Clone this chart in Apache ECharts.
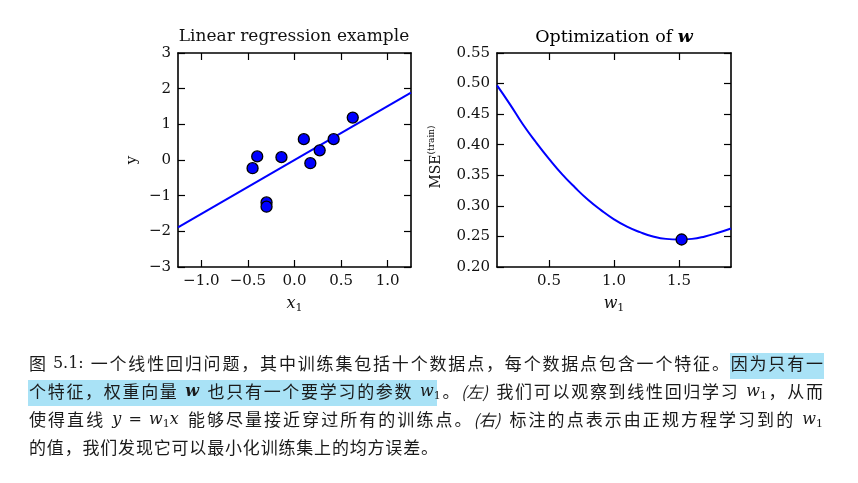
<!DOCTYPE html>
<html><head><meta charset="utf-8">
<script src="https://cdn.jsdelivr.net/npm/echarts@6/dist/echarts.min.js"></script>
<style>html,body{margin:0;padding:0;background:#fff;}#c{width:858px;height:483px;}</style>
</head><body><div id="c"></div>
<script>
// ---- data ----
const pointX = [-0.45, -0.40, -0.30, -0.30, -0.14, 0.10, 0.17, 0.27, 0.42, 0.625];
const pointY = [-0.23, 0.10, -1.19, -1.31, 0.08, 0.585, -0.09, 0.27, 0.585, 1.19];
const fitX = [-1.25, 1.25];
const fitY = [-1.89, 1.89];
const w1Values = [0.1, 0.2, 0.3, 0.4, 0.5, 0.6, 0.7, 0.8, 0.9, 1.0, 1.1, 1.2, 1.3, 1.4, 1.5, 1.6, 1.7, 1.8, 1.9];
const mseValues = [0.497, 0.466, 0.433, 0.404, 0.377, 0.352, 0.330, 0.310, 0.293, 0.278, 0.266, 0.257, 0.250, 0.246, 0.245, 0.246, 0.250, 0.256, 0.263];
const optW = [1.52];
const optMSE = [0.245];
const leftXTicks = [-1.0, -0.5, 0.0, 0.5, 1.0];
const leftYTicks = [-3, -2, -1, 0, 1, 2, 3];
const rightXTicks = [0.5, 1.0, 1.5];
const rightYTicks = [0.20, 0.25, 0.30, 0.35, 0.40, 0.45, 0.50, 0.55];
const titles = ['Linear regression example', 'Optimization of '];
// caption: [style, text]
const captionLines = [
  [['c', '图'], ['n', ' 5.1: '], ['c', '一个线性回归问题，其中训练集包括十个数据点，每个数据点包含一个特征。因为只有一']],
  [['c', '个特征，权重向量'], ['sp', ' '], ['mb', 'w'], ['sp', ' '], ['c', '也只有一个要学习的参数'], ['sp', ' '], ['m', 'w'], ['sub', '1'], ['c', '。'], ['it', '(左)'], ['sp', ' '], ['c', '我们可以观察到线性回归学习'], ['sp', ' '], ['m', 'w'], ['sub', '1'], ['c', '，从而']],
  [['c', '使得直线'], ['sp', ' '], ['m', 'y'], ['n', ' = '], ['m', 'w'], ['sub', '1'], ['mx', 'x'], ['sp', ' '], ['c', '能够尽量接近穿过所有的训练点。'], ['it', '(右)'], ['sp', ' '], ['c', '标注的点表示由正规方程学习到的'], ['sp', ' '], ['m', 'w'], ['sub', '1']],
  [['c', '的值，我们发现它可以最小化训练集上的均方误差。']]
];

const SERIF = 'DejaVu Serif';
const CJK = 'Noto Sans CJK SC';
const BLUE = '#0000ff';
const TXT = '#1a1a1a';

function fmt(d) { return v => (v < 0 ? '\u2212' : '') + Math.abs(v).toFixed(d); }

function axisBase(gridIndex, position, min, max, ticks, decimals, showLabel) {
  return {
    type: 'value', gridIndex, position, min, max,
    axisLine: { show: true, onZero: false, lineStyle: { color: '#000', width: 1.6 } },
    axisTick: { show: true, inside: true, length: 7, customValues: ticks, lineStyle: { color: '#000', width: 1.2 } },
    axisLabel: showLabel ? { show: true, customValues: ticks, formatter: fmt(decimals), fontFamily: SERIF, fontSize: 15, color: '#111', margin: 7 } : { show: false },
    splitLine: { show: false }
  };
}

const chart = echarts.init(document.getElementById('c'), null, { renderer: 'canvas' });

const subRich = { i: { fontFamily: SERIF, fontStyle: 'italic', fontSize: 16, lineHeight: 20, color: '#111' }, s: { fontFamily: SERIF, fontSize: 11, lineHeight: 11, verticalAlign: 'bottom', color: '#111' } };
const xAxes = [
  Object.assign(axisBase(0, 'bottom', -1.25, 1.25, leftXTicks, 1, true), {
    name: '{i|x}{s|1}', nameLocation: 'middle', nameGap: 27, nameTextStyle: { rich: subRich }
  }),
  axisBase(0, 'top', -1.25, 1.25, leftXTicks, 1, false),
  Object.assign(axisBase(1, 'bottom', 0.1, 1.9, rightXTicks, 1, true), {
    name: '{i|w}{s|1}', nameLocation: 'middle', nameGap: 27, nameTextStyle: { rich: subRich }
  }),
  axisBase(1, 'top', 0.1, 1.9, rightXTicks, 1, false)
];
const yAxes = [
  Object.assign(axisBase(0, 'left', -3, 3, leftYTicks, 0, true), {
    name: 'y', nameLocation: 'middle', nameGap: 38, nameRotate: 90,
    nameTextStyle: { fontFamily: SERIF, fontSize: 15, color: '#111' }
  }),
  axisBase(0, 'right', -3, 3, leftYTicks, 0, false),
  Object.assign(axisBase(1, 'left', 0.2, 0.55, rightYTicks, 2, true), {
    name: '{a|MSE}{b|(train)}', nameLocation: 'middle', nameGap: 52, nameRotate: 90,
    nameTextStyle: { padding: [0, 0, 0, 6], rich: { a: { fontFamily: SERIF, fontSize: 14, lineHeight: 18, color: '#111' }, b: { fontFamily: SERIF, fontSize: 9, lineHeight: 12, verticalAlign: 'top', color: '#111' } } }
  }),
  axisBase(1, 'right', 0.2, 0.55, rightYTicks, 2, false)
];

// caption typesetting (justified like the reference)
const capStyles = {
  c: { family: CJK, size: 17, style: 'normal', weight: 'normal', dy: 0 },
  n: { family: SERIF, size: 16, style: 'normal', weight: 'normal', dy: 0 },
  sp: { family: SERIF, size: 16, style: 'normal', weight: 'normal', dy: 0 },
  m: { family: SERIF, size: 16, style: 'italic', weight: 'normal', dy: 0 },
  mx: { family: SERIF, size: 16, style: 'italic', weight: 'normal', dy: 0, attach: true },
  mb: { family: SERIF, size: 16, style: 'italic', weight: 'bold', dy: 0 },
  sub: { family: SERIF, size: 11, style: 'normal', weight: 'normal', dy: 4, attach: true },
  it: { family: CJK, size: 16, style: 'italic', weight: 'normal', dy: 0 }
};
const mctx = document.createElement('canvas').getContext('2d');
function fontStr(s) { return s.style + ' ' + s.weight + ' ' + s.size + 'px "' + s.family + '"'; }
function measure(st, t) { mctx.font = fontStr(capStyles[st]); return mctx.measureText(t).width; }

const capY = [364, 392, 420, 448];
const capX0 = 29;
const capX1 = [823, 823, 823, 438];
const graphics = [
  { type: 'rect', shape: { x: 730, y: 353, width: 94, height: 26 }, style: { fill: '#a9e2f6' }, z: 0 },
  { type: 'rect', shape: { x: 28, y: 380, width: 409, height: 26 }, style: { fill: '#a9e2f6' }, z: 0 },
  { type: 'text', x: 294, y: 37, style: { text: titles[0], fontFamily: SERIF, fontSize: 17, fill: '#111', align: 'center', verticalAlign: 'middle' }, z: 5 },
  { type: 'text', x: 614, y: 37, style: { text: '{t|' + titles[1] + '}{w|w}', rich: { t: { fontFamily: SERIF, fontSize: 17.5, color: '#111' }, w: { fontFamily: SERIF, fontSize: 17.5, fontStyle: 'italic', fontWeight: 'bold', color: '#111' } }, align: 'center', verticalAlign: 'middle' }, z: 5 }
];
captionLines.forEach((segs, li) => {
  const units = [];
  segs.forEach(([st, t]) => {
    if (st === 'c') { for (const ch of t) units.push({ st, t: ch }); }
    else units.push({ st, t });
  });
  units.forEach(u => { u.w = measure(u.st, u.t); });
  const natural = units.reduce((a, u) => a + u.w, 0);
  const gaps = units.filter((u, i) => i > 0 && !capStyles[u.st].attach).length;
  const extra = Math.max(0, (capX1[li] - capX0 - natural) / gaps);
  let x = capX0;
  units.forEach((u, i) => {
    if (i > 0 && !capStyles[u.st].attach) x += extra;
    const s = capStyles[u.st];
    if (u.st !== 'sp') {
      graphics.push({ type: 'text', x: x, y: capY[li] + s.dy, z: 5,
        style: { text: u.t, fontFamily: s.family, fontSize: s.size, fontStyle: s.style, fontWeight: s.weight, fill: TXT, align: 'left', verticalAlign: 'middle' } });
    }
    x += u.w;
  });
});

chart.setOption({
  animation: false,
  backgroundColor: '#fff',
  grid: [
    { left: 178, top: 53, width: 233, height: 214, outerBoundsMode: 'none' },
    { left: 497, top: 53, width: 234, height: 214, outerBoundsMode: 'none' }
  ],
  xAxis: xAxes,
  yAxis: yAxes,
  graphic: graphics,
  series: [
    { type: 'line', xAxisIndex: 0, yAxisIndex: 0, data: fitX.map((x, i) => [x, fitY[i]]), symbol: 'none', lineStyle: { color: BLUE, width: 2 }, z: 2 },
    { type: 'scatter', xAxisIndex: 0, yAxisIndex: 0, data: pointX.map((x, i) => [x, pointY[i]]), symbolSize: 11, itemStyle: { color: BLUE, borderColor: '#000', borderWidth: 1.3, opacity: 1 }, z: 3 },
    { type: 'line', xAxisIndex: 2, yAxisIndex: 2, data: w1Values.map((x, i) => [x, mseValues[i]]), smooth: true, symbol: 'none', lineStyle: { color: BLUE, width: 2 }, z: 2 },
    { type: 'scatter', xAxisIndex: 2, yAxisIndex: 2, data: optW.map((x, i) => [x, optMSE[i]]), symbolSize: 11, itemStyle: { color: BLUE, borderColor: '#000', borderWidth: 1.3, opacity: 1 }, z: 3 }
  ]
});
</script>
</body></html>
